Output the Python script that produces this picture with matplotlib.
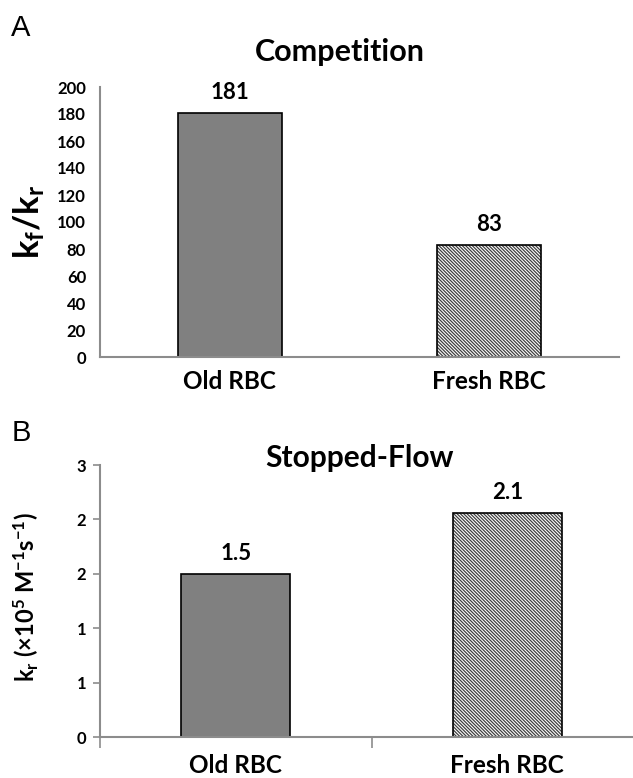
import matplotlib
matplotlib.use("Agg")
import matplotlib.pyplot as plt
from matplotlib.ticker import FixedLocator, FixedFormatter

plt.rcParams['font.family'] = ['Lato', 'DejaVu Sans']
plt.rcParams['mathtext.fontset'] = 'custom'
plt.rcParams['mathtext.rm'] = 'Lato:bold'
plt.rcParams['mathtext.it'] = 'Lato:bold'
plt.rcParams['mathtext.bf'] = 'Lato:bold'
plt.rcParams['mathtext.default'] = 'bf'
plt.rcParams['hatch.linewidth'] = 0.9

categories = ["Old RBC", "Fresh RBC"]
competition = [181, 83]
competition_labels = ["181", "83"]
stopped_flow = [1.5, 2.06]
stopped_flow_labels = ["1.5", "2.1"]
top_ticks = [0, 20, 40, 60, 80, 100, 120, 140, 160, 180, 200]
bottom_ticks = [0, 0.5, 1.0, 1.5, 2.0, 2.5]
bottom_tick_labels = ["0", "1", "1", "2", "2", "3"]

W, H = 633, 778
fig = plt.figure(figsize=(W / 100, H / 100), dpi=100)

def ax_rect(l, t, r, b):
    return [l / W, 1 - b / H, (r - l) / W, (b - t) / H]

gray = '#8c8c8c'
old_face = '#808080'
fresh_face = '#ffffff'
hatch = '\\' * 10

# ---- Panel A ----
ax1 = fig.add_axes(ax_rect(100, 87, 619, 357))
x = [0, 1]
b1 = ax1.bar(x[0], competition[0], width=0.4, color=old_face, edgecolor='black', linewidth=1.2)
b2 = ax1.bar(x[1], competition[1], width=0.4, color=fresh_face, edgecolor='black', linewidth=1.2,
             hatch=hatch)
for b in b2:
    b._hatch_color = (0.25, 0.25, 0.25, 1)
ax1.set_xlim(-0.5, 1.5)
ax1.set_ylim(0, 200)
ax1.yaxis.set_major_locator(FixedLocator(top_ticks))
ax1.set_yticklabels([str(t) for t in top_ticks], fontsize=12, fontweight='bold')
ax1.tick_params(axis='y', length=0, pad=10)
ax1.set_xticks(x)
ax1.set_xticklabels(categories, fontsize=17.5, fontweight='bold')
ax1.tick_params(axis='x', length=0, pad=9)
for s in ['top', 'right']:
    ax1.spines[s].set_visible(False)
for s in ['left', 'bottom']:
    ax1.spines[s].set_color(gray)
    ax1.spines[s].set_linewidth(1.5)
for xi, v, lab in zip(x, competition, competition_labels):
    ax1.annotate(lab, (xi, v), xytext=(0, 7), textcoords='offset points',
                 ha='center', va='bottom', fontsize=16, fontweight='bold')
fig.text(340 / W, 1 - 52 / H, "Competition", ha='center', va='center', fontsize=22, fontweight='bold')
fig.text(29 / W, 1 - 222 / H, r'$\mathbf{k_f/k_r}$', ha='center', va='center', rotation=90, fontsize=25)
fig.text(11 / W, 1 - 28 / H, "A", ha='left', va='center', fontsize=21, family='Liberation Sans')

# ---- Panel B ----
ax2 = fig.add_axes(ax_rect(100, 465, 643, 737))
c1 = ax2.bar(x[0], stopped_flow[0], width=0.4, color=old_face, edgecolor='black', linewidth=1.2)
c2 = ax2.bar(x[1], stopped_flow[1], width=0.4, color=fresh_face, edgecolor='black', linewidth=1.2,
             hatch=hatch)
for b in c2:
    b._hatch_color = (0.25, 0.25, 0.25, 1)
ax2.set_xlim(-0.5, 1.5)
ax2.set_ylim(0, 2.5)
ax2.yaxis.set_major_locator(FixedLocator(bottom_ticks))
ax2.yaxis.set_major_formatter(FixedFormatter(bottom_tick_labels))
for t in ax2.get_yticklabels():
    t.set_fontsize(12)
    t.set_fontweight('bold')
ax2.tick_params(axis='y', length=5, width=1.2, color=gray, pad=5, direction='out')
ax2.set_xticks([-0.5, 0.5, 1.5])
ax2.set_xticklabels(["", "", ""])
ax2.tick_params(axis='x', length=8, width=1.2, color=gray, direction='out')
for xi, lab in zip(x, categories):
    ax2.annotate(lab, (xi, 0), xytext=(0, -26), textcoords='offset points',
                 ha='center', va='baseline', fontsize=17.5, fontweight='bold')
for s in ['top', 'right']:
    ax2.spines[s].set_visible(False)
for s in ['left', 'bottom']:
    ax2.spines[s].set_color(gray)
    ax2.spines[s].set_linewidth(1.5)
for xi, v, lab in zip(x, stopped_flow, stopped_flow_labels):
    ax2.annotate(lab, (xi, v), xytext=(0, 7), textcoords='offset points',
                 ha='center', va='bottom', fontsize=16, fontweight='bold')
fig.text(360 / W, 1 - 458 / H, "Stopped-Flow", ha='center', va='center', fontsize=21.5, fontweight='bold')
fig.text(26 / W, 1 - 597 / H, r'k$_{r}$ (×10$^{5}$ M$^{-1}$s$^{-1}$)', ha='center', va='center',
         rotation=90, fontsize=17, fontweight='bold')
fig.text(12 / W, 1 - 433 / H, "B", ha='left', va='center', fontsize=21, family='Liberation Sans')

fig.savefig("out.png", dpi=100)
